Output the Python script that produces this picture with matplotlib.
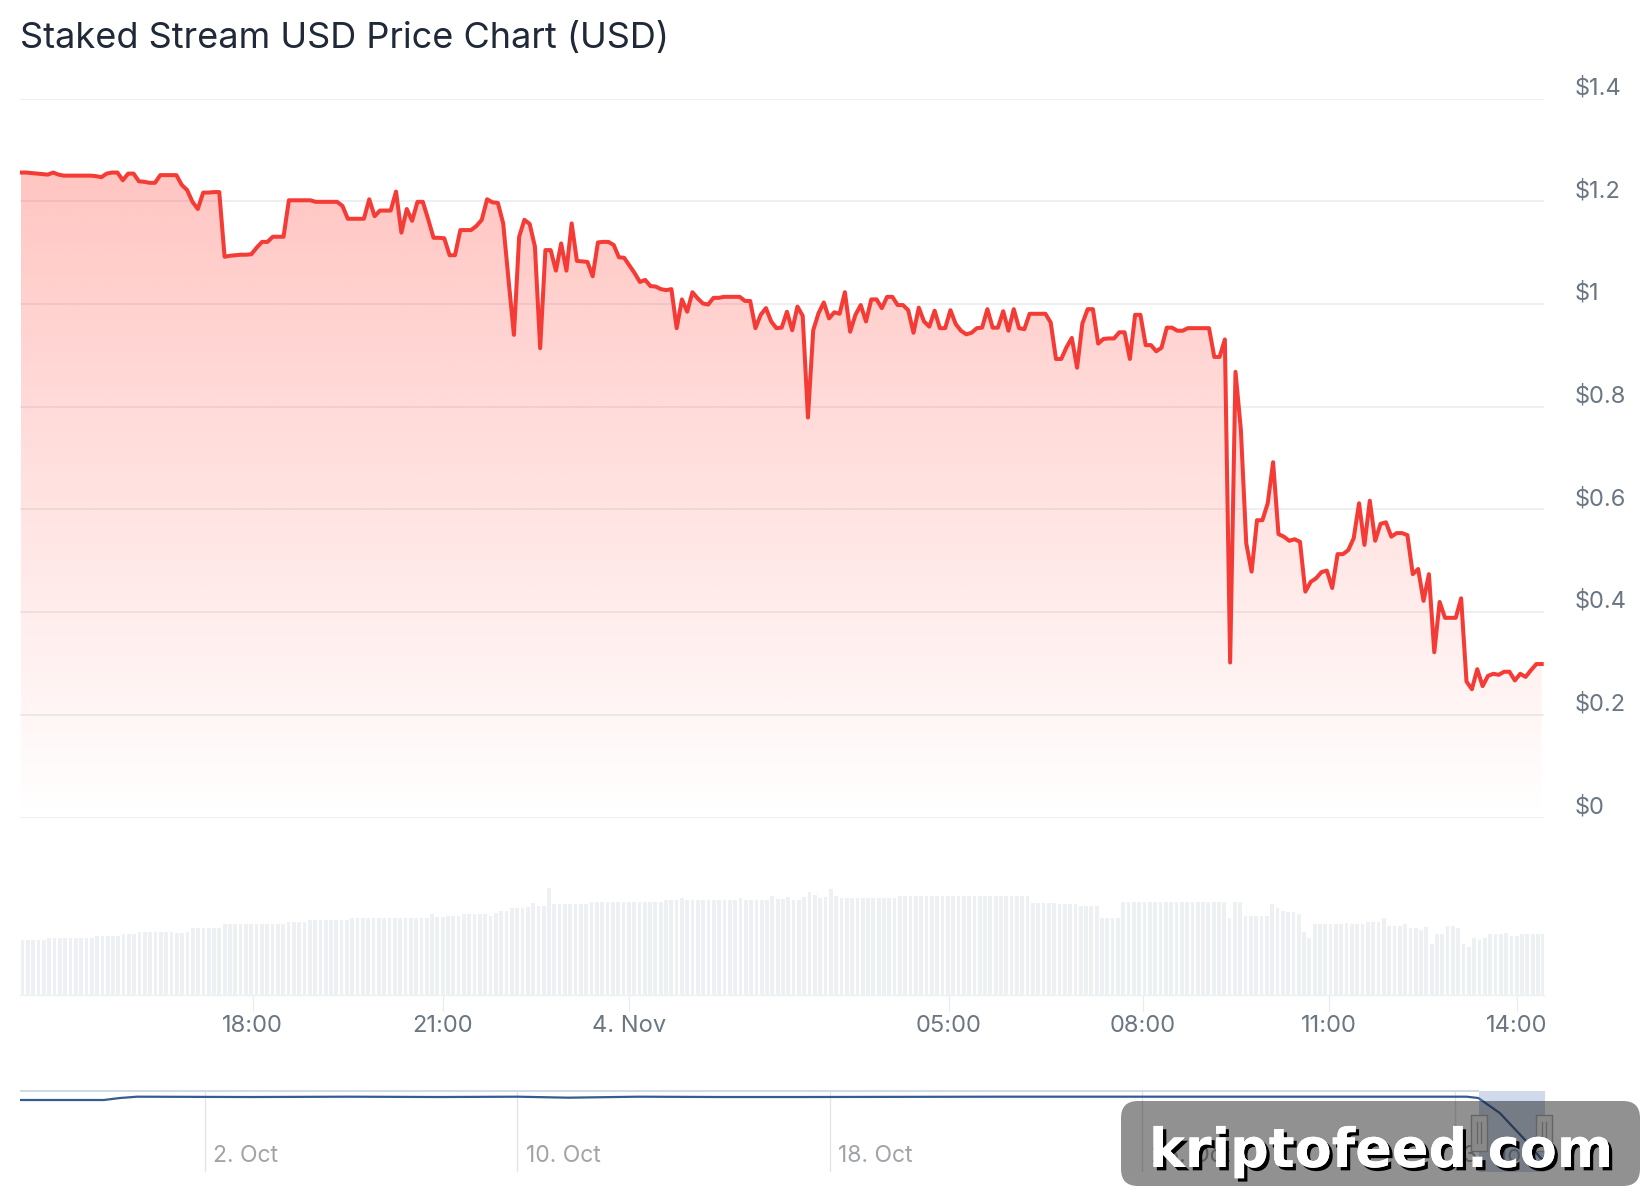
import numpy as np
import matplotlib
matplotlib.use("Agg")
from matplotlib import pyplot as plt
from matplotlib import patheffects
from matplotlib.patches import Rectangle, FancyBboxPatch
from matplotlib.transforms import ScaledTranslation

plt.rcParams["font.family"] = ["Inter", "DejaVu Sans"]

W, H = 1644, 1200

# preco a cada ~5 min
PRICE = [
    1.256, 1.256, 1.255, 1.254, 1.253, 1.252, 1.256, 1.252, 1.250, 1.250,
    1.250, 1.250, 1.250, 1.250, 1.249, 1.247, 1.254, 1.256, 1.256, 1.241,
    1.254, 1.254, 1.239, 1.238, 1.236, 1.236, 1.251, 1.251, 1.251, 1.251,
    1.232, 1.222, 1.199, 1.185, 1.217, 1.217, 1.218, 1.218, 1.092, 1.094,
    1.095, 1.096, 1.096, 1.097, 1.110, 1.121, 1.121, 1.131, 1.131, 1.131,
    1.202, 1.202, 1.202, 1.202, 1.202, 1.199, 1.199, 1.199, 1.199, 1.199,
    1.191, 1.166, 1.166, 1.166, 1.166, 1.204, 1.171, 1.182, 1.182, 1.182,
    1.219, 1.139, 1.185, 1.162, 1.199, 1.199, 1.165, 1.129, 1.129, 1.128,
    1.095, 1.095, 1.144, 1.144, 1.144, 1.152, 1.164, 1.204, 1.198, 1.197,
    1.157, 1.047, 0.940, 1.131, 1.164, 1.156, 1.112, 0.914, 1.105, 1.105,
    1.065, 1.118, 1.065, 1.157, 1.084, 1.083, 1.082, 1.054, 1.120, 1.121,
    1.121, 1.115, 1.091, 1.090, 1.075, 1.060, 1.043, 1.047, 1.035, 1.034,
    1.029, 1.027, 1.029, 0.953, 1.009, 0.985, 1.023, 1.011, 1.001, 0.999,
    1.012, 1.012, 1.014, 1.014, 1.014, 1.014, 1.006, 1.006, 0.953, 0.979,
    0.992, 0.966, 0.953, 0.954, 0.985, 0.949, 0.995, 0.977, 0.779, 0.949,
    0.982, 1.003, 0.972, 0.984, 0.981, 1.023, 0.946, 0.979, 0.998, 0.966,
    1.009, 1.009, 0.992, 1.014, 1.014, 0.998, 0.998, 0.988, 0.944, 0.993,
    0.966, 0.956, 0.987, 0.953, 0.953, 0.988, 0.961, 0.948, 0.941, 0.944,
    0.953, 0.954, 0.990, 0.954, 0.954, 0.986, 0.948, 0.990, 0.953, 0.951,
    0.981, 0.981, 0.981, 0.981, 0.964, 0.893, 0.893, 0.916, 0.934, 0.876,
    0.962, 0.990, 0.990, 0.923, 0.932, 0.933, 0.933, 0.945, 0.945, 0.893,
    0.979, 0.979, 0.920, 0.920, 0.908, 0.915, 0.954, 0.954, 0.948, 0.948,
    0.953, 0.953, 0.953, 0.953, 0.953, 0.897, 0.897, 0.931, 0.302, 0.868,
    0.755, 0.534, 0.479, 0.579, 0.579, 0.612, 0.692, 0.552, 0.547, 0.539,
    0.542, 0.537, 0.440, 0.459, 0.466, 0.478, 0.481, 0.447, 0.513, 0.513,
    0.521, 0.544, 0.612, 0.531, 0.617, 0.539, 0.572, 0.575, 0.547, 0.554,
    0.554, 0.550, 0.474, 0.484, 0.422, 0.474, 0.322, 0.420, 0.389, 0.389,
    0.389, 0.427, 0.265, 0.250, 0.289, 0.256, 0.276, 0.280, 0.278, 0.284,
    0.284, 0.267, 0.280, 0.274, 0.287, 0.299, 0.299,
]

# volume (escala relativa, eixo escondido)
VOLUME = [
    55, 55, 55, 55, 55, 56.7, 56.7, 56.7, 56.7, 56.7,
    56.7, 56.7, 56.7, 56.7, 59, 59, 59, 59, 59, 60.7,
    60.7, 60.7, 63.3, 63.3, 63.3, 63.3, 63.3, 63.3, 63.3, 61.7,
    61.7, 63.3, 66.7, 66.7, 66.7, 66.7, 66.7, 66.7, 71, 71,
    71, 71, 71, 71, 71, 71, 71, 71, 71, 71,
    72.7, 72.7, 72.7, 72.7, 75, 75, 75, 75, 75, 75,
    75, 75, 77, 77, 77, 77, 77, 77, 77, 77,
    77, 77, 77, 77, 77, 77, 77, 80.7, 78.3, 78.3,
    79.3, 79.3, 79.3, 81, 81, 81, 81, 81, 79, 81.7,
    84.3, 84.3, 87.3, 87.3, 87.3, 88.3, 92, 89, 89, 106.7,
    91, 91, 91, 91, 91, 91, 91, 92.7, 92.7, 92.7,
    92.7, 92.7, 92.7, 92.7, 92.7, 92.7, 92.7, 92.7, 92.7, 92.7,
    92.7, 95, 95, 95, 96.7, 95, 95, 95, 95, 95,
    95, 95, 95, 95, 95, 96.7, 95, 95, 95, 95,
    95, 99, 96, 96, 97.7, 95, 95, 98.3, 103.3, 100,
    96.7, 98.3, 105.7, 99, 97.3, 97.3, 97.3, 97.3, 97.3, 97.3,
    97.3, 97.3, 97.3, 97.3, 97.3, 99.3, 99.3, 99.3, 99.3, 99.3,
    99.3, 99.3, 99.3, 99.3, 99.3, 99.3, 99.3, 99.3, 99.3, 99.3,
    99.3, 99.3, 99.3, 99.3, 99.3, 99.3, 99.3, 99.3, 99.3, 99.3,
    91.7, 91.7, 91.7, 91.7, 91.7, 91, 91, 91, 91, 89,
    89, 89, 89, 76.7, 76.7, 76.7, 76.7, 92.7, 92.7, 92.7,
    92.7, 92.7, 92.7, 92.7, 92.7, 92.7, 92.7, 92.7, 92.7, 92.7,
    92.7, 92.7, 92.7, 92.7, 92.7, 92.7, 92.7, 76.7, 92.7, 92.7,
    79, 79, 79, 79, 79, 91, 86.7, 84.3, 82.7, 82.7,
    81, 63.3, 56.7, 71, 71, 71, 71, 71, 71, 72.3,
    71, 71, 71, 72.7, 72.7, 72.7, 76.7, 69, 69, 69,
    70.7, 66.7, 66.7, 65, 68.3, 51, 61, 61, 69, 69,
    66.7, 51, 48.3, 56.7, 55, 56.7, 60.7, 60.7, 60.7, 62.3,
    59, 59, 61, 61, 61, 61, 61,
]

# eixo ordinal: posicao dos rotulos em numero de amostras
TIME_TICKS = [43.6, 79.3, 114.3, 174.5, 211.0, 246.0, 281.3]
TIME_LABELS = ["18:00", "21:00", "4. Nov", "05:00", "08:00", "11:00", "14:00"]
PRICE_TICKS = [0, 0.2, 0.4, 0.6, 0.8, 1, 1.2, 1.4]
PRICE_LABELS = ["$0", "$0.2", "$0.4", "$0.6", "$0.8", "$1", "$1.2", "$1.4"]

# amostras de referencia para alinhar a linha com o eixo ordinal
SAMPLE_ANCHORS = [0, 92, 148, 228, 286]
SLOT_ANCHORS = [0, 92.7, 148, 227.4, 286]

# navigator: dias desde 2. Oct
NAV_DAYS = [-4.74, -2.59, -2.18, -1.74, 1.15, 3.7, 6, 8, 9.3, 11.1, 13.2, 15.2,
            20.35, 25.5, 32.3, 32.6, 33.15, 33.8, 34.2, 34.28]
NAV_PRICE = [1.205, 1.205, 1.235, 1.255, 1.25, 1.255, 1.25, 1.255, 1.24, 1.255,
             1.25, 1.25, 1.255, 1.255, 1.255, 1.235, 1.008, 0.60, 0.326, 0.30]
NAV_TICKS = [0, 8, 16, 24, 32]
NAV_LABELS = ["2. Oct", "10. Oct", "18. Oct", "26. Oct", "3. Nov"]

TEXT_GREY = "#6b7683"
GRID = "#eceef1"
RED = "#f53b36"
BAR = "#edf1f4"
X_LIM = (-0.19, 286.43)


# cria um eixo a partir de coordenadas em pixels da imagem
def px_axes(fig, left, top, right, bottom):
    return fig.add_axes([left / W, 1 - bottom / H, (right - left) / W, (bottom - top) / H])


slots = np.interp(np.arange(len(PRICE)), SAMPLE_ANCHORS, SLOT_ANCHORS)
slots_vol = np.arange(len(VOLUME)) + 0.3

fig = plt.figure(figsize=(W / 100, H / 100), dpi=100, facecolor="white")
fig.text(20 / W, 1 - 47.7 / H, "Staked Stream USD Price Chart (USD)",
         fontsize=26, color="#1f2937", ha="left", va="baseline")

# grafico principal
ax = px_axes(fig, 20, 98.6, 1544, 817.6)
ax.patch.set_alpha(0)
for s in ax.spines.values():
    s.set_visible(False)
ax.set_xticks([])
ax.yaxis.tick_right()
ax.set_yticks(PRICE_TICKS, PRICE_LABELS)
ax.tick_params(axis="y", length=0, pad=22.3, labelsize=17, labelcolor=TEXT_GREY)
offset = ScaledTranslation(0, 13 / 100, fig.dpi_scale_trans)
for label in ax.get_yticklabels():
    label.set_transform(label.get_transform() + offset)
ax.grid(axis="y", color=GRID, linewidth=1.3, zorder=1)
ax.set_axisbelow(True)

# gradiente vermelho por baixo da linha
grad = np.zeros((256, 2, 4))
grad[..., 0] = 255 / 255
grad[..., 1] = 59 / 255
grad[..., 2] = 48 / 255
grad[..., 3] = np.linspace(0.30, 0, 256)[:, None]
img = ax.imshow(grad, extent=[slots[0], slots[-1], 0, 1.28], aspect="auto", origin="upper", zorder=2)
poly = ax.fill_between(slots, PRICE, 0, facecolor="none", edgecolor="none")
img.set_clip_path(poly.get_paths()[0], transform=ax.transData)
ax.set_xlim(*X_LIM)
ax.set_ylim(0, 1.4)
ax.plot(slots, PRICE, color=RED, linewidth=2.9, solid_joinstyle="round", zorder=3)

# volume
ax_vol = px_axes(fig, 20, 880, 1544, 995)
ax_vol.set_xlim(*X_LIM)
ax_vol.set_ylim(0, 115)
ax_vol.patch.set_alpha(0)
ax_vol.bar(slots_vol, VOLUME, width=0.7, color=BAR, linewidth=0)
ax_vol.set_yticks([])
for name, s in ax_vol.spines.items():
    s.set_visible(name == "bottom")
ax_vol.spines["bottom"].set_color(BAR)
ax_vol.spines["bottom"].set_linewidth(1.0)
ax_vol.set_xticks(TIME_TICKS, TIME_LABELS)
ax_vol.tick_params(axis="x", length=11.5, width=0.8, color="#e8ebee", pad=2.6,
                   labelsize=17, labelcolor=TEXT_GREY)

# navigator
ax_nav = px_axes(fig, 20, 1091, 1544, 1172)
ax_nav.set_xlim((20 - 205) / 39.06, (1544 - 205) / 39.06)
ax_nav.set_ylim(0.118, 1.341)
ax_nav.patch.set_alpha(0)
for s in ax_nav.spines.values():
    s.set_visible(False)
ax_nav.set_yticks([])
ax_nav.set_xticks([])
for day, name in zip(NAV_TICKS, NAV_LABELS):
    ax_nav.axvline(day, color="#e0e4ea", linewidth=0.9, zorder=1)
    ax_nav.annotate(name, xy=(day, 0), xycoords=ax_nav.get_xaxis_transform(),
                    xytext=(6, 3.5), textcoords="offset points", fontsize=16.5,
                    color="#a0a4a8", ha="left", va="bottom", zorder=2)
ax_nav.plot(NAV_DAYS, NAV_PRICE, color="#335c8f", linewidth=1.6, zorder=3)

# camada em pixels: mascara, alcas e marca d'agua
over = fig.add_axes([0, 0, 1, 1])
over.set_xlim(0, W)
over.set_ylim(H, 0)
over.axis("off")
over.patch.set_alpha(0)
over.add_patch(Rectangle((20, 1090), 1458.5, 2, facecolor="#cfdae6", edgecolor="none", zorder=1))
over.add_patch(Rectangle((1478.5, 1090.7), 66, 81, facecolor=(0.40, 0.52, 0.76, 0.30), edgecolor="none", zorder=1))
for left in (1471, 1536):
    over.add_patch(Rectangle((left, 1115), 16, 36, facecolor="#f2f2f2", edgecolor="#b0b0b0", linewidth=1, zorder=2))
    for dx in (6, 10):
        over.plot([left + dx, left + dx], [1122, 1143], color="#b0b0b0", linewidth=0.9, zorder=3)

over.add_patch(FancyBboxPatch((1121, 1101), 519, 85, boxstyle="round,pad=0,rounding_size=17",
                              mutation_aspect=1, facecolor=(0, 0, 0, 0.43), edgecolor="none", zorder=5))
over.text(1149, 1167, "kriptofeed.com", color="white", family="DejaVu Sans", weight="bold",
          fontsize=38.9, ha="left", va="baseline", zorder=6,
          path_effects=[patheffects.withSimplePatchShadow(offset=(2.4, -2.4), shadow_rgbFace="black", alpha=1.0),
                        patheffects.Normal()])

fig.savefig("out.png", dpi=100)
